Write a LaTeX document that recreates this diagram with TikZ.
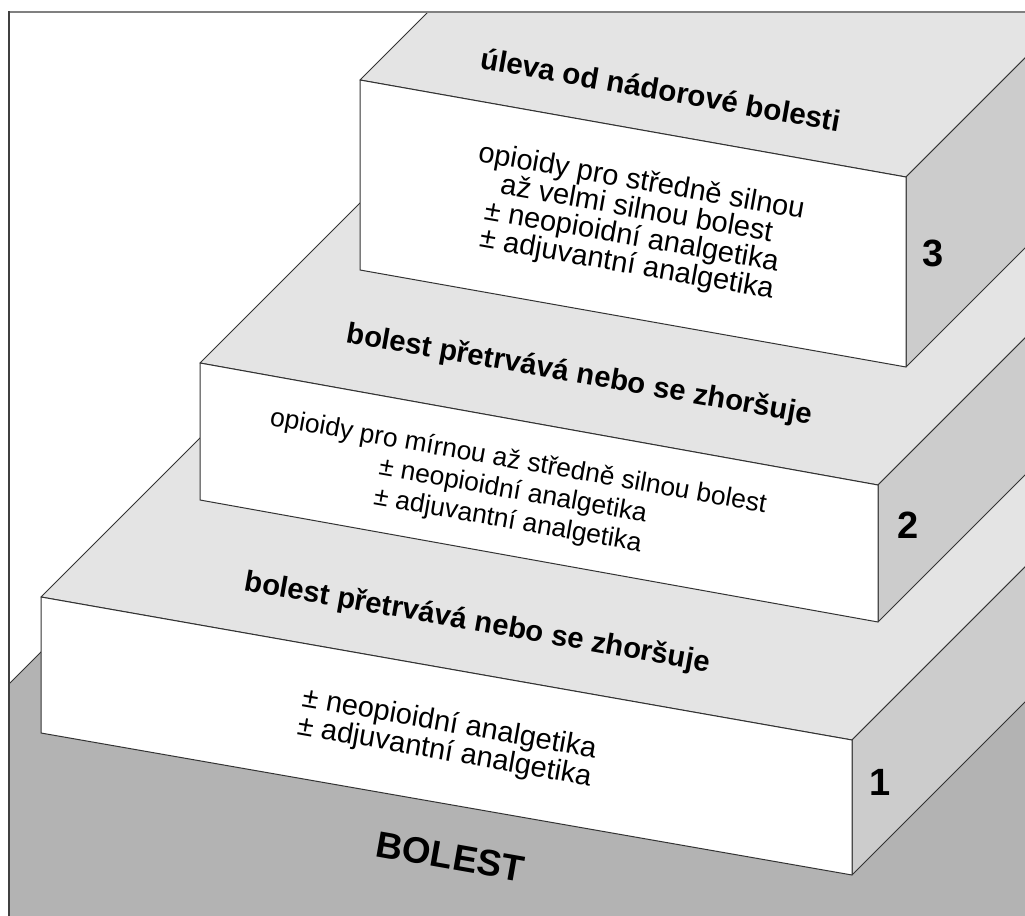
\documentclass[tikz,border=0pt]{standalone}
\usepackage{fontspec}
\setmainfont{Liberation Sans}
\usetikzlibrary{calc}
\definecolor{topgray}{HTML}{E4E4E4}
\definecolor{sidegray}{HTML}{CCCCCC}
\definecolor{basegray}{HTML}{B3B3B3}
\definecolor{edgecol}{HTML}{333333}
% centred lines with a fixed baseline distance; the box's baseline is that of its first line
\newcommand\linesblock[2]{\vtop{\baselineskip=#1\lineskiplimit=-\maxdimen\lineskip=0pt\halign{\hfil##\hfil\cr#2\crcr}}}
\tikzset{
  topface/.style={fill=topgray, draw=edgecol, line width=0.5pt, line join=round},
  sideface/.style={fill=sidegray, draw=edgecol, line width=0.5pt, line join=round},
  frontface/.style={fill=white, draw=edgecol, line width=0.5pt, line join=round},
  basefill/.style={fill=basegray, draw=edgecol, line width=0.5pt},
  titletext/.style={font=\bfseries\fontsize{14.6}{14.6}\selectfont, rotate=-10, anchor=base, inner sep=0pt},
  bodytext/.style={font=\fontsize{14.5}{14.5}\selectfont, rotate=-10, anchor=base, inner sep=0pt},
  numtext/.style={font=\bfseries\fontsize{19}{19}\selectfont, anchor=center, inner sep=0pt},
  basetext/.style={font=\bfseries\fontsize{18.4}{18.4}\selectfont, rotate=-10, anchor=base, inner sep=0pt},
}
\begin{document}
\begin{tikzpicture}[x=0.5pt, y=-0.5pt]
\useasboundingbox (0,0) rectangle (1025,916);
\fill[white] (0,0) rectangle (1025,916);
% step corners
\coordinate (s1a) at (41,597);  \coordinate (s1b) at (852,740);
\coordinate (s1c) at (852,875); \coordinate (s1d) at (41,733);
\coordinate (s2a) at (200,363); \coordinate (s2b) at (878,485);
\coordinate (s2c) at (878,622); \coordinate (s2d) at (200,500);
\coordinate (s3a) at (360,80);  \coordinate (s3b) at (906,177);
\coordinate (s3c) at (906,367); \coordinate (s3d) at (360,270);
\coordinate (bl) at (9,684);
\begin{scope}
\clip (9,12) rectangle (1025,916);
% base
\path[basefill] (bl) -- ($(bl)+(700,-700)$) -- (1200,-100) -- (1200,1100) -- (9,1100) -- cycle;
% step 1
\path[topface] (s1a) -- (s1b) -- ($(s1b)+(700,-700)$) -- ($(s1a)+(700,-700)$) -- cycle;
\path[sideface] (s1b) -- (s1c) -- ($(s1c)+(700,-700)$) -- ($(s1b)+(700,-700)$) -- cycle;
\path[frontface] (s1a) -- (s1b) -- (s1c) -- (s1d) -- cycle;
% step 2
\path[topface] (s2a) -- (s2b) -- ($(s2b)+(700,-700)$) -- ($(s2a)+(700,-700)$) -- cycle;
\path[sideface] (s2b) -- (s2c) -- ($(s2c)+(700,-700)$) -- ($(s2b)+(700,-700)$) -- cycle;
\path[frontface] (s2a) -- (s2b) -- (s2c) -- (s2d) -- cycle;
% step 3
\path[topface] (s3a) -- (s3b) -- ($(s3b)+(700,-700)$) -- ($(s3a)+(700,-700)$) -- cycle;
\path[sideface] (s3b) -- (s3c) -- ($(s3c)+(700,-700)$) -- ($(s3b)+(700,-700)$) -- cycle;
\path[frontface] (s3a) -- (s3b) -- (s3c) -- (s3d) -- cycle;
\end{scope}
% frame
\draw[black!50, line width=1pt] (9,11.5) -- (1025,11.5);
\draw[black!75, line width=1.2pt] (9,11) -- (9,916);
% texts step 3
\node[titletext, font=\bfseries\fontsize{14.8}{14.8}\selectfont] (t3) at (659,100) {úleva od nádorové bolesti};
\node[bodytext] (b3) at (640,190) {\linesblock{14pt}{opioidy pro středně silnou\cr
  až velmi silnou bolest\cr
  ± neopioidní analgetika\cr
  ± adjuvantní analgetika}};
\node[numtext] (n3) at (933,253) {3};
% texts step 2
\node[titletext] (t2) at (578,383) {bolest přetrvává nebo se zhoršuje};
\node[bodytext, font=\fontsize{13.2}{13.2}\selectfont] (b2) at (517,469) {\linesblock{15pt}{opioidy pro mírnou až středně silnou bolest\cr
  ± neopioidní analgetika\cr
  ± adjuvantní analgetika}};
\node[numtext] (n2) at (908,525) {2};
% texts step 1
\node[titletext] (t1) at (476,631) {bolest přetrvává nebo se zhoršuje};
\node[bodytext] (b1) at (448,732) {\linesblock{14.2pt}{± neopioidní analgetika\cr
  ± adjuvantní analgetika}};
\node[numtext] (n1) at (880,782) {1};
% base
\node[basetext] (bo) at (448,869) {BOLEST};
\end{tikzpicture}
\end{document}
